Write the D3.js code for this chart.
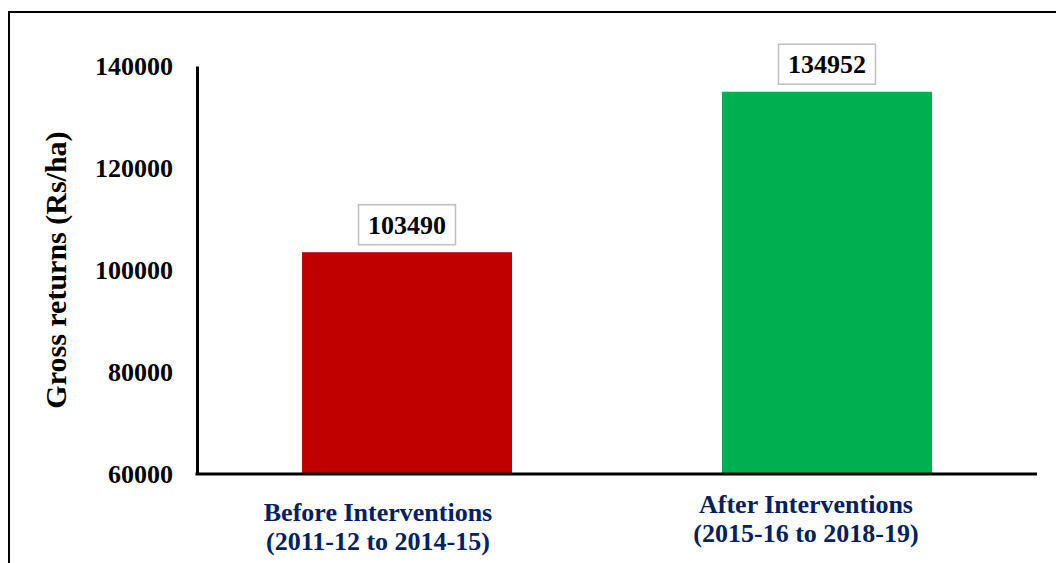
<!DOCTYPE html>
<html>
<head>
<meta charset="utf-8">
<script src="https://cdn.jsdelivr.net/npm/d3@7/dist/d3.min.js"></script>
<style>
  html, body { margin: 0; padding: 0; background: #fff; }
  svg { display: block; }
  text { font-family: "Liberation Serif", "Times New Roman", serif; font-weight: bold; }
</style>
</head>
<body>
<svg id="chart" width="1056" height="563"></svg>
<script>
const categories = ["Before Interventions|(2011-12 to 2014-15)", "After Interventions|(2015-16 to 2018-19)"];
const values = [103490, 134952];
const barColors = ["#C00000", "#00B050"];
const yTicks = [60000, 80000, 100000, 120000, 140000];
const yTitle = "Gross returns (Rs/ha)";

const svg = d3.select("#chart");

// outer frame
svg.append("rect")
  .attr("x", 9).attr("y", 12).attr("width", 1060).attr("height", 570)
  .attr("fill", "none").attr("stroke", "#000").attr("stroke-width", 2);

const plot = { left: 197, right: 1037, top: 66, bottom: 474 };

const x = d3.scaleBand()
  .domain(categories)
  .range([plot.left, plot.right])
  .paddingInner(0.5)
  .paddingOuter(0.25);

const y = d3.scaleLinear()
  .domain([60000, 140000])
  .range([plot.bottom, plot.top]);

// bars
svg.append("g").selectAll("rect")
  .data(values)
  .join("rect")
  .attr("x", (d, i) => x(categories[i]))
  .attr("y", d => y(d))
  .attr("width", x.bandwidth())
  .attr("height", d => y(60000) - y(d))
  .attr("fill", (d, i) => barColors[i]);

// y axis
const yAxis = d3.axisLeft(y).tickValues(yTicks).tickSize(0).tickPadding(24).tickFormat(d3.format("d"));
const gy = svg.append("g").attr("transform", `translate(${plot.left},0)`).call(yAxis);
gy.select(".domain").attr("stroke", "#000").attr("stroke-width", 3);
gy.selectAll("text").attr("font-size", 26).attr("fill", "#000")
  .attr("font-family", "'Liberation Serif', 'Times New Roman', serif").attr("font-weight", "bold");

// x axis line
const xAxis = d3.axisBottom(x).tickSize(0).tickFormat("");
const gx = svg.append("g").attr("transform", `translate(0,${plot.bottom})`).call(xAxis);
gx.select(".domain").attr("stroke", "#000").attr("stroke-width", 3)
  .attr("d", `M${plot.left - 1.5},0H${plot.right}`);

// x category labels
const labelDx = [-29, -21];
const labelDy = [521, 513];
categories.forEach((c, i) => {
  const lines = c.split("|");
  const t = svg.append("text")
    .attr("text-anchor", "middle")
    .attr("font-size", 26)
    .attr("fill", "#002060");
  lines.forEach((ln, j) => {
    t.append("tspan")
      .attr("x", x(c) + x.bandwidth() / 2 + labelDx[i])
      .attr("y", labelDy[i] + j * 29)
      .text(ln);
  });
});

// value labels with boxes
values.forEach((v, i) => {
  const cx = x(categories[i]) + x.bandwidth() / 2;
  const top = y(v);
  svg.append("rect")
    .attr("x", cx - 48.5).attr("y", top - 47.5)
    .attr("width", 97).attr("height", 40)
    .attr("fill", "#fff").attr("stroke", "#BFBFBF").attr("stroke-width", 1.5);
  svg.append("text")
    .attr("x", cx).attr("y", top - 18.5)
    .attr("text-anchor", "middle")
    .attr("font-size", 26)
    .attr("fill", "#000")
    .text(v);
});

// y title
svg.append("text")
  .attr("transform", `translate(66,${(plot.top + plot.bottom) / 2}) rotate(-90)`)
  .attr("text-anchor", "middle")
  .attr("font-size", 30)
  .attr("fill", "#000")
  .text(yTitle);
</script>
</body>
</html>
